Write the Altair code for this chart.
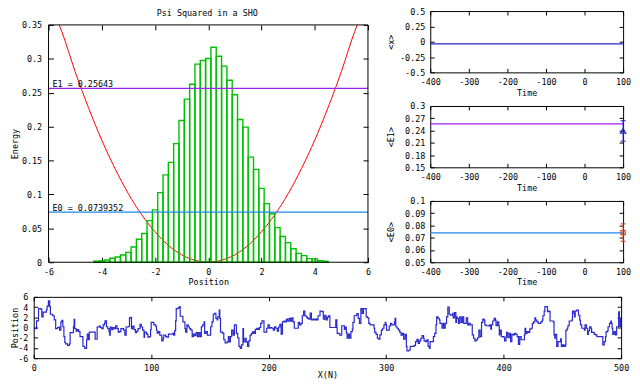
import altair as alt
import pandas as pd

FONT = "DejaVu Sans Mono"
FS = 8.5

# ---------------- data ----------------
hist_left = [-4.3, -4.1, -3.9, -3.7, -3.5, -3.3, -3.1, -2.9, -2.7, -2.5, -2.3, -2.1,
             -1.9, -1.7, -1.5, -1.3, -1.1, -0.9, -0.7, -0.5, -0.3, -0.1, 0.1, 0.3,
             0.5, 0.7, 0.9, 1.1, 1.3, 1.5, 1.7, 1.9, 2.1, 2.3, 2.5, 2.7, 2.9, 3.1,
             3.3, 3.5, 3.7, 3.9, 4.1, 4.3]
bin_width = 0.2
hist_height = [0.0015, 0.002, 0.0034, 0.0058, 0.0078, 0.0107, 0.0146, 0.0224, 0.034, 0.0423,
               0.0613, 0.0773, 0.1026, 0.1288, 0.1473, 0.175, 0.209, 0.2406, 0.2625, 0.2922,
               0.2975, 0.3004, 0.317, 0.3038, 0.2893, 0.2684, 0.247, 0.2105, 0.1993, 0.155,
               0.137, 0.109, 0.0865, 0.0715, 0.051, 0.038, 0.029, 0.020, 0.0131, 0.0097,
               0.0053, 0.0049, 0.0024, 0.0015]

pot_x = [-5.6, -5.5, -5.0, -4.5, -4.0, -3.5, -3.0, -2.5, -2.0, -1.5, -1.0, -0.5, 0.0,
         0.5, 1.0, 1.5, 2.0, 2.5, 3.0, 3.5, 4.0, 4.5, 5.0, 5.5, 5.6]
pot_y = [0.350, 0.340, 0.281, 0.228, 0.180, 0.138, 0.101, 0.070, 0.045, 0.025, 0.011, 0.003, 0.0,
         0.003, 0.011, 0.025, 0.045, 0.070, 0.101, 0.138, 0.180, 0.228, 0.281, 0.340, 0.350]

E0 = 0.0739352
E1 = 0.25643
E_labels = ["E0 = 0.0739352", "E1 = 0.25643"]
mean_x = -0.035
e1_point = [100, 0.239, 0.214, 0.264]    # time, value, low, high
e0_point = [100, 0.0742, 0.0671, 0.0813]

main_xticks = [-6, -4, -2, 0, 2, 4, 6]
main_yticks = [0, 0.05, 0.1, 0.15, 0.2, 0.25, 0.3, 0.35]
time_ticks = [-400, -300, -200, -100, 0, 100]
p1_ticks = [-0.5, -0.25, 0, 0.25, 0.5]
p2_ticks = [0.15, 0.18, 0.21, 0.24, 0.27, 0.3]
p3_ticks = [0.05, 0.06, 0.07, 0.08, 0.09, 0.1]
walk_xticks = [0, 100, 200, 300, 400, 500]
walk_yticks = [-6, -4, -2, 0, 2, 4, 6]

walk = [(0,-0.2),(2.4,1.3),(4.1,3.7),(5.8,3.6),(6.9,2.1),(8.0,3.0),(10.8,3.5),(11.4,4.2),(12.5,5.2),(13.6,4.1),
(14.2,2.6),(15.9,2.4),(16.4,2.3),(17.5,1.5),(18.7,-0.2),(20.3,0.0),(21.5,0.1),(22.0,-0.5),(23.1,1.1),(24.0,1.4),
(24.8,0.15),(25.7,-1.8),(26.5,-2.9),(27.1,-3.2),(28.8,-3.5),(30.4,-3.2),(31.0,-1.0),(33.8,0.2),(34.4,1.6),(34.9,-0.2),
(36.1,-0.7),(37.2,-0.4),(38.3,-0.8),(39.4,-1.8),(41.9,-3.7),(43.4,-4.1),(45.0,-2.4),(45.6,-1.3),(46.7,-2.4),(47.3,-0.9),
(52.3,-2.3),(54.0,0.1),(55.7,0.3),(56.8,0.0),(57.9,-0.2),(59.1,0.5),(60.2,0.8),(60.7,1.3),(61.9,0.15),(63.0,-0.2),
(64.1,-0.8),(64.7,-1.5),(65.2,0.1),(66.4,-0.4),(67.5,0.0),(68.6,-0.2),(69.7,0.35),(70.9,-0.2),(72.0,-0.9),(73.1,-0.8),
(74.2,-0.2),(76.5,-0.5),(77.6,-1.5),(78.7,0.1),(80.4,0.2),(81.5,1.9),(82.6,2.0),(83.2,-0.2),(84.3,0.3),(85.4,-0.4),
(86.6,-1.0),(87.7,-0.7),(88.8,-0.2),(90.5,0.6),(91.6,0.1),(92.7,-0.5),(93.9,-1.9),(94.4,-0.9),(96.1,-1.3),(97.2,-1.9),
(98.4,-1.8),(99.5,-0.4),(100.0,1.0),(102.3,0.5),(104.0,0.2),(104.5,-0.5),(105.1,-1.1),(106.2,-0.8),(107.3,-1.5),(109.0,-2.6),
(110.1,-2.1),(110.7,-1.5),(112.4,-1.8),(113.5,-1.9),(114.7,-1.3),(118.6,-1.1),(119.1,-1.5),(120.0,-0.6),(120.8,1.3),(121.3,3.7),
(123.0,3.9),(124.2,4.1),(124.7,2.2),(127.0,1.1),(128.7,-0.2),(129.3,-0.9),(130.4,0.5),(131.5,0.15),(132.6,-0.2),(133.7,-0.5),
(134.9,-1.8),(136.0,-1.3),(137.1,-1.6),(138.2,-1.0),(139.4,-1.8),(140.5,-1.0),(141.6,-1.8),(142.7,0.15),(143.8,0.5),(145.0,1.1),
(145.5,-1.15),(146.6,-0.8),(147.8,-1.5),(150.6,0.15),(151.7,1.1),(152.8,2.6),(153.9,2.75),(155.1,1.8),(156.2,1.5),(156.7,2.1),
(157.9,3.4),(158.4,1.8),(159.0,-0.9),(160.7,-1.1),(161.8,-2.4),(162.9,-3.0),(164.6,-2.8),(165.7,-1.8),(166.3,-2.8),(167.4,-1.8),
(168.5,-0.5),(169.7,-1.5),(170.8,0.5),(172.5,-1.15),(173.6,-2.0),(174.7,-3.7),(175.8,-4.1),(176.9,-3.4),(178.1,-0.2),(178.6,-2.8),
(179.8,-2.1),(180.9,-2.8),(182.0,-3.7),(183.1,-2.6),(184.2,-1.5),(185.4,-1.15),(186.5,-0.8),(187.6,-1.15),(188.7,-0.35),(189.9,-0.15),
(191.0,-0.35),(192.1,0.0),(193.2,0.8),(194.3,1.3),(196.0,-0.9),(198.3,-0.15),(199.4,0.5),(200.5,-0.15),(201.6,0.0),(202.8,-0.15),
(203.9,-0.5),(205.0,0.15),(206.1,-0.15),(207.3,-0.7),(208.4,0.1),(209.5,0.6),(210.6,-1.3),(211.7,1.1),(212.9,1.25),(214.0,1.1),
(215.1,1.65),(216.2,1.25),(217.4,1.8),(218.5,1.25),(219.6,1.9),(220.7,1.1),(221.8,-0.15),(225.2,1.0),(226.3,0.5),(227.5,0.8),
(228.6,2.3),(229.7,3.2),(230.8,2.3),(232.0,2.05),(233.1,1.8),(234.2,1.65),(235.3,2.8),(236.4,1.5),(237.6,1.65),(238.7,1.5),
(239.8,1.65),(240.9,1.5),(242.0,2.3),(243.7,3.2),(245.4,3.1),(246.5,1.65),(247.7,2.4),(248.8,1.5),(249.9,2.05),(251.0,2.3),
(252.1,0.0),(257.1,1.5),(258.0,0.0),(258.3,-1.15),(260.5,-1.5),(262.2,0.35),(264.4,-0.35),(265.0,0.1),(266.1,-1.0),(266.7,-2.1),
(267.8,-1.3),(268.9,-2.1),(270.0,-0.8),(271.2,-0.3),(271.7,1.0),(272.8,2.3),(274.5,2.4),(275.1,2.7),(276.2,1.8),(277.3,0.8),
(278.5,3.7),(279.6,2.75),(280.7,3.7),(283.0,2.1),(284.1,1.9),(285.2,0.8),(286.3,0.5),(289.7,-0.15),(290.2,-0.95),(291.4,-1.35),
(292.5,-2.1),(293.6,-2.3),(294.7,-1.45),(295.9,-0.5),(297.0,-0.15),(298.1,0.5),(299.2,1.0),(299.8,0.5),(300.3,-0.5),(302.6,0.3),
(303.7,0.8),(304.8,0.5),(307.1,1.1),(307.6,1.8),(308.2,0.15),(309.3,-0.15),(310.4,-0.5),(311.6,-0.95),(312.7,-1.5),(313.8,-1.15),
(314.9,-2.3),(316.1,-1.35),(317.2,-3.7),(317.7,-4.6),(319.4,-4.4),(320.5,-3.7),(323.9,-3.5),(325.0,-2.75),(326.2,-2.3),(327.3,-3.1),
(328.4,-2.6),(329.5,-2.1),(330.6,-1.6),(331.8,-2.1),(332.3,-2.6),(333.5,-2.75),(334.6,-2.4),(335.7,-3.7),(336.8,-4.1),(337.4,-2.75),
(340.2,-1.8),(341.3,-1.15),(342.4,0.5),(343.0,2.1),(344.1,1.8),(345.2,1.5),(345.8,0.8),(347.5,-0.15),(348.6,0.8),(349.2,-0.15),
(350.3,0.8),(351.4,2.1),(352.5,4.0),(353.7,2.6),(354.8,2.4),(356.5,2.75),(357.0,1.9),(358.2,2.9),(359.3,1.0),(359.8,2.1),
(360.4,1.8),(361.5,0.8),(362.6,2.1),(363.8,1.0),(364.9,2.1),(366.0,0.8),(368.2,1.9),(369.4,0.5),(370.5,0.8),(371.6,0.5),
(373.3,-1.45),(374.4,-2.1),(375.5,-2.6),(376.7,-2.4),(377.8,-2.0),(378.9,-0.5),(380.0,-1.8),(381.2,1.0),(382.3,1.65),(383.4,1.45),
(384.0,0.5),(385.1,0.35),(386.8,0.3),(387.9,0.5),(389.0,-0.3),(389.6,0.5),(390.7,1.27),(391.9,1.8),(393.0,1.45),(393.5,0.35),
(394.7,1.1),(395.8,0.35),(396.3,-1.45),(396.9,-0.5),(398.0,-1.8),(400.3,-2.0),(400.8,-2.6),(402.0,-1.8),(402.5,-0.95),(403.6,-2.0),
(404.8,-1.15),(405.9,-2.75),(407.0,-1.33),(408.1,-1.45),(409.2,-1.15),(410.4,-1.33),(411.5,-1.8),(412.6,-3.3),(413.7,-1.8),(414.9,-2.4),
(417.7,-1.45),(418.2,-0.15),(418.8,-1.15),(419.9,-0.8),(421.0,-0.95),(422.2,-0.3),(423.3,-0.15),(424.4,0.8),(425.5,1.1),(426.6,1.9),
(427.2,1.45),(428.3,1.1),(429.5,0.8),(431.7,1.1),(432.8,1.45),(433.4,2.3),(434.5,3.2),(435.1,4.1),(437.3,3.1),(438.4,3.2),
(439.5,1.27),(442.4,1.1),(442.9,-1.45),(443.5,-2.1),(444.0,-1.33),(445.2,-3.7),(446.3,-2.75),(448.5,-2.24),(449.1,-3.7),(450.2,-3.4),
(451.3,-3.7),(452.5,-3.4),(453.0,-0.5),(454.1,-0.15),(454.7,0.35),(455.8,1.27),(458.1,1.45),(458.6,3.2),(459.8,2.75),(460.3,2.1),
(460.9,3.2),(462.0,3.4),(463.7,2.4),(464.8,1.45),(465.4,0.5),(466.5,-0.15),(468.7,-0.5),(469.3,0.5),(470.4,-0.15),(471.5,-1.33),
(472.1,-0.68),(473.2,0.15),(474.3,-0.15),(474.9,-0.95),(477.1,-1.33),(478.3,-1.45),(479.4,-1.8),(483.3,-1.8),(484.4,-3.4),(485.6,-2.75),
(486.7,-1.8),(487.2,-0.8),(488.4,-0.68),(488.9,0.15),(490.1,0.8),(491.2,1.27),(491.7,0.8),(492.3,-0.15),(492.9,-1.33),(494.0,-0.8),
(495.1,-1.45),(496.2,0.15),(497.9,3.05),(498.5,1.8),(499.0,0.15),(499.6,1.65),(500.0,1.65)]

# ---------------- styles ----------------
GREEN = "#00c000"
RED = "#ff0000"
PURPLE = "#a020f0"
LBLUE = "#1e88f0"
DBLUE = "#2828cc"
ORANGE = "#d04010"

AXBASE = dict(labelFont=FONT, labelFontSize=FS, titleFont=FONT, titleFontSize=FS,
              titleFontWeight="normal", labelColor="black", titleColor="black",
              tickColor="black", tickWidth=1, domain=False, grid=False,
              labelFlush=False, labelOverlap=False)


def ax_bottom(vals, title, tick, tgap):
    return alt.Axis(orient="bottom", values=vals, title=title, tickSize=tick, offset=-tick,
                    labelPadding=5, titleY=tgap + tick, titleBaseline="middle",
                    labelExpr="'' + datum.value", **AXBASE)


def ax_left(vals, title, tick, shift, lpad, title_center):
    axis_pos = shift + tick
    return alt.Axis(orient="left", values=vals, title=title, tickSize=tick, offset=-axis_pos,
                    labelPadding=lpad, titleX=title_center - axis_pos, titleBaseline="middle",
                    labelExpr="'' + datum.value", **AXBASE)


def ax_top(vals, tick, shift=0):
    return alt.Axis(orient="top", values=vals, title=None, labels=False, tickSize=tick,
                    offset=-(shift + tick), **AXBASE)


def ax_right(vals, tick):
    return alt.Axis(orient="right", values=vals, title=None, labels=False, tickSize=tick,
                    offset=-tick, **AXBASE)


def axis_layers(xs, ys, xdom, ydom, xvals, yvals, xtitle, ytitle, tick, lpad, title_center,
                xshift=0, yshift=0, draw_frame=False, tgap=20):
    fdf = pd.DataFrame({"x1": [xdom[0]], "x2": [xdom[1]], "y1": [ydom[0]], "y2": [ydom[1]]})
    base = alt.Chart(fdf)
    if draw_frame:
        m = base.mark_rect(filled=False, stroke="black", strokeWidth=1)
    else:
        m = base.mark_point(opacity=0)
    a = m.encode(
        x=alt.X("x1:Q", scale=xs, axis=ax_bottom(xvals, xtitle, tick, tgap)),
        y=alt.Y("y1:Q", scale=ys, axis=ax_left(yvals, ytitle, tick, xshift, lpad, title_center)),
        **({"x2": "x2", "y2": "y2"} if draw_frame else {}),
    )
    b = base.mark_point(opacity=0).encode(
        x=alt.X("x2:Q", scale=xs, axis=ax_top(xvals, tick, yshift)),
        y=alt.Y("y2:Q", scale=ys, axis=ax_right(yvals, tick)),
    )
    return [a, b]


# ---------------- main panel ----------------
MAIN_W, MAIN_H = 338, 254
MX0, MY0 = 15, 14
mxs = alt.Scale(domain=[-6, 6], range=[MX0, MAIN_W], nice=False, zero=False)
mys = alt.Scale(domain=[0, 0.35], range=[MAIN_H, MY0], nice=False, zero=False)

hist_df = pd.DataFrame({"left": hist_left, "h": hist_height})
hist_df["right"] = (hist_df["left"] + bin_width).round(3)
hist_df["zero"] = 0.0

bars = alt.Chart(hist_df).mark_rect(filled=False, stroke=GREEN, strokeWidth=1.4).encode(
    x=alt.X("left:Q", scale=mxs, axis=None), x2="right",
    y=alt.Y("h:Q", scale=mys, axis=None), y2="zero")

pot = alt.Chart(pd.DataFrame({"x": pot_x, "y": pot_y})).mark_line(
    color=RED, strokeWidth=1, interpolate="monotone").encode(
    x=alt.X("x:Q", scale=mxs, axis=None), y=alt.Y("y:Q", scale=mys, axis=None))

elines = pd.DataFrame({"x1": [-6, -6], "x2": [6, 6], "E": [E0, E1], "label": E_labels,
                       "c": ["E0", "E1"]})
erules = alt.Chart(elines).mark_rule(strokeWidth=1.2).encode(
    x=alt.X("x1:Q", scale=mxs, axis=None), x2="x2",
    y=alt.Y("E:Q", scale=mys, axis=None),
    color=alt.Color("c:N", scale=alt.Scale(domain=["E0", "E1"], range=[LBLUE, PURPLE]), legend=None))
elabels = alt.Chart(elines).mark_text(align="left", baseline="alphabetic", dx=4, dy=-1.5,
                                      font=FONT, fontSize=FS, color="black").encode(
    x=alt.X("x1:Q", scale=mxs, axis=None), y=alt.Y("E:Q", scale=mys, axis=None), text="label:N")

title_df = pd.DataFrame({"x": [0], "y": [0.35], "t": ["Psi Squared in a SHO"]})
title = alt.Chart(title_df).mark_text(align="center", baseline="middle", dy=-12, dx=-1,
                                      font=FONT, fontSize=FS, color="black").encode(
    x=alt.X("x:Q", scale=mxs, axis=None), y=alt.Y("y:Q", scale=mys, axis=None), text="t:N")

main_axes = axis_layers(mxs, mys, [-6, 6], [0, 0.35], main_xticks, main_yticks, "Position", "Energy",
                        5, 7, -19.5, xshift=MX0, yshift=MY0, draw_frame=True)

main = alt.layer(pot, bars, erules, elabels, title, *main_axes).resolve_axis(
    x="independent", y="independent").properties(
    width=MAIN_W, height=MAIN_H, view=alt.ViewBackground(strokeOpacity=0))

# ---------------- right panels ----------------
RW, RH = 195, 62
txs = alt.Scale(domain=[-400, 100], nice=False, zero=False)


def right_panel(line_val, line_color, ytitle, ydom, yvals, point=None, pcolor=None, shape=None, psize=None):
    ys = alt.Scale(domain=ydom, nice=False, zero=False)
    layers = axis_layers(txs, ys, [-400, 100], ydom, time_ticks, yvals, "Time", ytitle, 4, 5.5, -40)
    ldf = pd.DataFrame({"t1": [-400], "t2": [100], "v": [line_val]})
    layers.append(alt.Chart(ldf).mark_rule(color=line_color, strokeWidth=1.2).encode(
        x=alt.X("t1:Q", scale=txs, axis=None), x2="t2", y=alt.Y("v:Q", scale=ys, axis=None)))
    if point is not None:
        t, v, lo, hi = point
        edf = pd.DataFrame({"t": [t], "v": [v], "lo": [lo], "hi": [hi]})
        layers.append(alt.Chart(edf).mark_rule(color=pcolor, strokeWidth=1).encode(
            x=alt.X("t:Q", scale=txs, axis=None), y=alt.Y("lo:Q", scale=ys, axis=None), y2="hi"))
        cdf = pd.DataFrame({"a": [t - 6.5, t - 6.5], "b": [t + 6.5, t + 6.5], "v": [lo, hi]})
        layers.append(alt.Chart(cdf).mark_rule(color=pcolor, strokeWidth=1).encode(
            x=alt.X("a:Q", scale=txs, axis=None), x2="b", y=alt.Y("v:Q", scale=ys, axis=None)))
        layers.append(alt.Chart(edf).mark_point(shape=shape, filled=False, color=pcolor, size=psize,
                                                strokeWidth=1.2, opacity=1).encode(
            x=alt.X("t:Q", scale=txs, axis=None), y=alt.Y("v:Q", scale=ys, axis=None)))
    return alt.layer(*layers).resolve_axis(x="independent", y="independent").properties(
        width=RW, height=RH)


p1 = right_panel(mean_x, DBLUE, "<x>", [-0.5, 0.5], p1_ticks)
p2 = right_panel(E1, PURPLE, "<E1>", [0.15, 0.3], p2_ticks, e1_point, "#2020d0", "triangle-up", 30)
p3 = right_panel(E0, LBLUE, "<E0>", [0.05, 0.1], p3_ticks, e0_point, ORANGE, "square", 18)

# ---------------- bottom panel ----------------
BW, BH = 594, 62
wxs = alt.Scale(domain=[0, 500], nice=False, zero=False)
wys = alt.Scale(domain=[-6, 6], nice=False, zero=False)
walk_df = pd.DataFrame(walk, columns=["n", "pos"])
walk_line = alt.Chart(walk_df).mark_line(color=DBLUE, strokeWidth=1.2, interpolate="step-after").encode(
    x=alt.X("n:Q", scale=wxs, axis=None), y=alt.Y("pos:Q", scale=wys, axis=None))
bottom = alt.layer(walk_line, *axis_layers(wxs, wys, [0, 500], [-6, 6], walk_xticks, walk_yticks,
                                          "X(N)", "Position", 4, 6, -19.5, tgap=17)).resolve_axis(
    x="independent", y="independent").properties(width=BW, height=BH)

# ---------------- layout ----------------
right_col = alt.vconcat(p1, p2, p3, spacing=4)
top = alt.hconcat(main, right_col, spacing=15)
chart = alt.vconcat(top, bottom, spacing=5).properties(
    padding={"left": 1, "top": -4, "right": 0, "bottom": 0},
    background="white",
).configure_view(stroke="black", strokeWidth=1)

chart.save("out.html", embed_options={"renderer": "svg", "actions": False})
